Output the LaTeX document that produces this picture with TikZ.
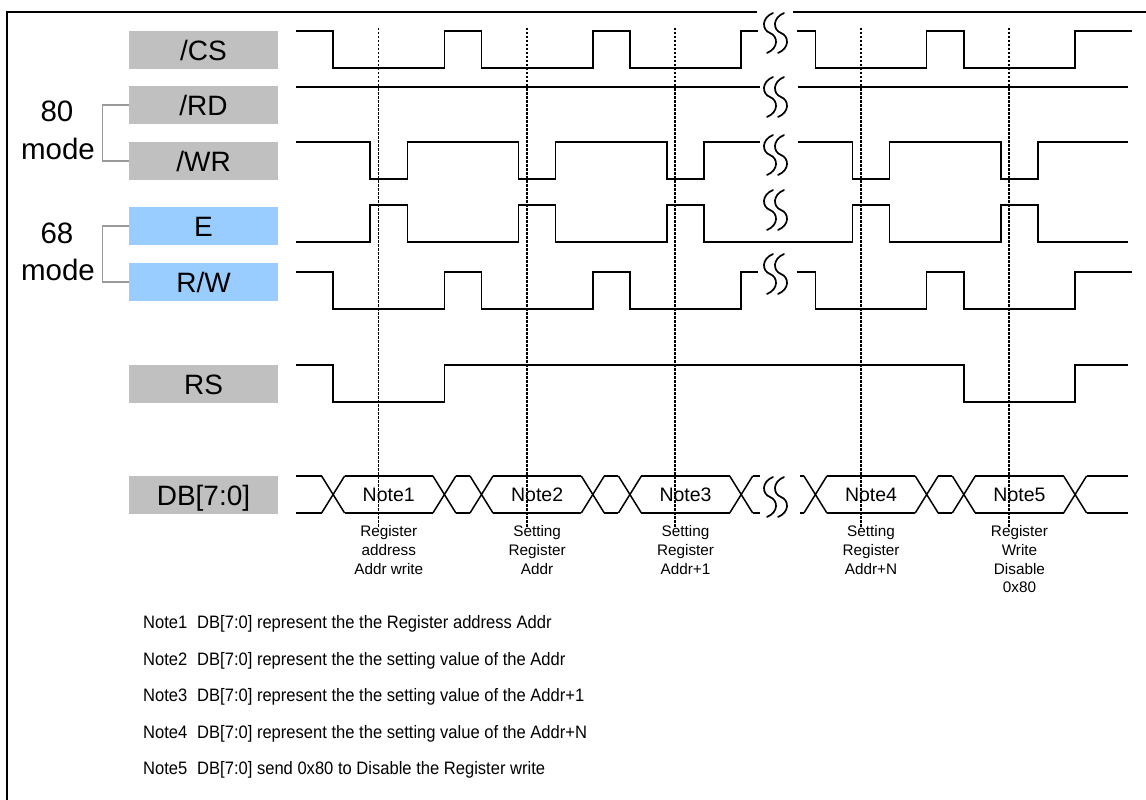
\documentclass[tikz,border=0pt]{standalone}
\usepackage{fontspec}
\setmainfont{Liberation Sans}
\newfontfamily\narrowfont[FakeStretch=0.92]{Liberation Sans}
\definecolor{lblgray}{HTML}{C0C0C0}
\definecolor{lblblue}{HTML}{99CCFF}
\tikzset{sig/.style = {shape=rectangle,fill=lblgray,minimum width=149pt,minimum height=38pt,inner sep=0pt,text height=20pt,text depth=0pt,font=\fontsize{28}{30}\selectfont}}
\tikzset{sigb/.style = {sig,fill=lblblue}}
\tikzset{modetext/.style = {inner sep=0pt,text height=21pt,text depth=0pt,font=\fontsize{29.5}{32}\selectfont}}
\tikzset{wave/.style = {line width=1.5pt,line join=miter}}
\tikzset{probe/.style = {line width=1.4pt,dash pattern=on 2.5pt off 1.5pt}}
\tikzset{bracket/.style = {draw=black!40,line width=1.2pt}}
\tikzset{bus/.style = {inner sep=0pt,text height=13.8pt,text depth=0pt,font=\fontsize{19.5}{22}\selectfont}}
\tikzset{desc/.style = {anchor=north,align=center,inner sep=0pt,font=\fontsize{15.3}{18.7}\selectfont}}
\tikzset{notetext/.style = {anchor=west,inner sep=0pt,text height=13pt,text depth=0pt,font=\narrowfont\fontsize{18}{20}\selectfont}}

\begin{document}
\begin{tikzpicture}[x=1pt,y=-1pt]
    \useasboundingbox (0,0) rectangle (1146,800);
    \draw[line width=1.6pt] (7,12) rectangle (1170,820);
    % signal names
    \node[sig] (cs) at (203.5,50) {/CS};
    \node[sig] (rd) at (203.5,105) {/RD};
    \node[sig] (wr) at (203.5,161) {/WR};
    \node[sigb] (e) at (203.5,226) {E};
    \node[sigb] (rw) at (203.5,282) {R/W};
    \node[sig] (rs) at (203.5,384) {RS};
    \node[sig] (db) at (203.5,495) {DB[7:0]};
    % bus modes
    \node[modetext] (m80) at (57,111) {80};
    \node[modetext] (m80b) at (58,148.5) {mode};
    \draw[bracket] (rd.west) -- ++(-26,0) |- (wr.west);
    \node[modetext] (m68) at (57,232.5) {68};
    \node[modetext] (m68b) at (58,270) {mode};
    \draw[bracket] (e.west) -- ++(-26,0) |- (rw.west);
    % waveforms
    \begin{scope}[shift={(296,0)},x=37.1pt]
        \foreach \hi/\lo in {31/68,272/309} {
            \draw[wave] (0,\hi) -- (1,\hi) -- (1,\lo) -- (4,\lo) -- (4,\hi) -- (5,\hi) -- (5,\lo) -- (8,\lo) -- (8,\hi)
                -- (9,\hi) -- (9,\lo) -- (12,\lo) -- (12,\hi) -- (12.45,\hi);
            \draw[wave] (13.5,\hi) -- (14,\hi) -- (14,\lo) -- (17,\lo) -- (17,\hi) -- (18,\hi) -- (18,\lo) -- (21,\lo)
                -- (21,\hi) -- (22.53,\hi);
        }
        \draw[wave] (0,87) -- (12.5,87) (13.53,87) -- (22.43,87);
        \draw[wave] (0,142) -- (2,142) -- (2,179) -- (3,179) -- (3,142) -- (6,142) -- (6,179) -- (7,179) -- (7,142)
            -- (10,142) -- (10,179) -- (11,179) -- (11,142) -- (12.5,142);
        \draw[wave] (13.53,142) -- (15,142) -- (15,179) -- (16,179) -- (16,142) -- (19,142) -- (19,179) -- (20,179)
            -- (20,142) -- (22.43,142);
        \draw[wave] (0,242) -- (2,242) -- (2,205) -- (3,205) -- (3,242) -- (6,242) -- (6,205) -- (7,205) -- (7,242)
            -- (10,242) -- (10,205) -- (11,205) -- (11,242) -- (15,242) -- (15,205) -- (16,205) -- (16,242)
            -- (19,242) -- (19,205) -- (20,205) -- (20,242) -- (22.43,242);
        \draw[wave] (0,365) -- (1,365) -- (1,402) -- (4,402) -- (4,365) -- (18,365) -- (18,402) -- (21,402)
            -- (21,365) -- (22.43,365);
        % data bus
        \foreach \c in {1,4,5,8,9,12,14,17,18,21}
            \draw[wave] (\c-0.31,476) -- (\c+0.31,513) (\c-0.31,513) -- (\c+0.31,476);
        \foreach \a/\b in {0/0.69,1.31/3.69,4.31/4.69,5.31/7.69,8.31/8.69,9.31/11.69,12.31/12.5,
                13.58/13.69,14.31/16.69,17.31/17.69,18.31/20.69,21.31/22.43}
            \draw[wave] (\a,476) -- (\b,476) (\a,513) -- (\b,513);
        % sample points
        \foreach \t in {2.22,6.23,10.22,15.23,19.22}
            \draw[probe] (\t,28) -- (\t,528);
        \node[bus] (note1) at (2.5,494.5) {Note1};
        \node[bus] (note2) at (6.5,494.5) {Note2};
        \node[bus] (note3) at (10.5,494.5) {Note3};
        \node[bus] (note4) at (15.5,494.5) {Note4};
        \node[bus] (note5) at (19.5,494.5) {Note5};
        \node[desc] (desc1) at (2.5,525.5) {Register\\address\\Addr write};
        \node[desc] (desc2) at (6.5,525.5) {Setting\\Register\\Addr};
        \node[desc] (desc3) at (10.5,525.5) {Setting\\Register\\Addr+1};
        \node[desc] (desc4) at (15.5,525.5) {Setting\\Register\\Addr+N};
        \node[desc] (desc5) at (19.5,525.5) {Register\\Write\\Disable\\0x80};
    \end{scope}
    % time breaks
    \fill[white] (757,4) rectangle (793,20);
    \foreach \y in {33,97,155,210,274,497}
        \foreach \sx in {770,781}
            \draw[wave,line width=1.7pt,line cap=round] (\sx+3,\y-20) .. controls (\sx-9,\y-15) and (\sx-8,\y-3) .. (\sx,\y)
                .. controls (\sx+8,\y+3) and (\sx+9,\y+15) .. (\sx-3,\y+20);
    % notes
    \node[notetext] (n1) at (143,622) {Note1};
    \node[notetext] (t1) at (197,622) {DB[7:0] represent the the Register address Addr};
    \node[notetext] (n2) at (143,658.5) {Note2};
    \node[notetext] (t2) at (197,658.5) {DB[7:0] represent the the setting value of the Addr};
    \node[notetext] (n3) at (143,695) {Note3};
    \node[notetext] (t3) at (197,695) {DB[7:0] represent the the setting value of the Addr+1};
    \node[notetext] (n4) at (143,731.5) {Note4};
    \node[notetext] (t4) at (197,731.5) {DB[7:0] represent the the setting value of the Addr+N};
    \node[notetext] (n5) at (143,768) {Note5};
    \node[notetext] (t5) at (197,768) {DB[7:0] send 0x80 to Disable the Register write};
\end{tikzpicture}
\end{document}
